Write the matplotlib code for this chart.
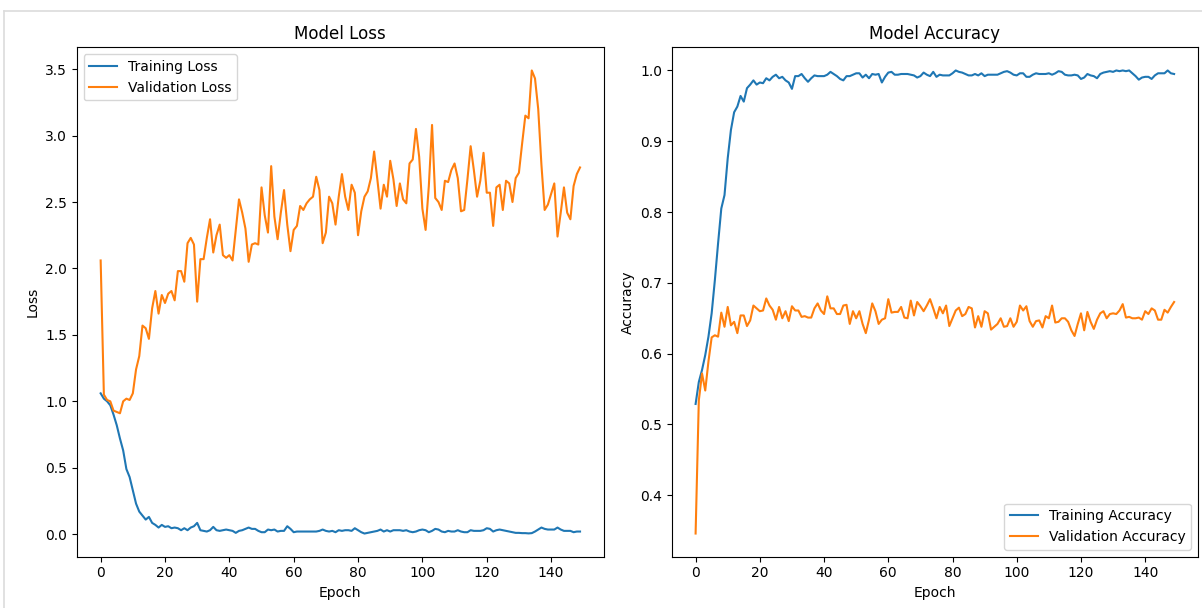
import numpy as np
import matplotlib
matplotlib.use("Agg")
from matplotlib import pyplot as plt
from matplotlib.lines import Line2D

train_loss = [1.06, 1.02, 1.00, 0.97, 0.90, 0.82, 0.72, 0.63, 0.49, 0.43,
              0.33, 0.23, 0.17, 0.14, 0.11, 0.13, 0.085, 0.07, 0.05, 0.07,
              0.055, 0.06, 0.045, 0.05, 0.045, 0.03, 0.045, 0.03, 0.05, 0.06,
              0.085, 0.03, 0.025, 0.02, 0.03, 0.055, 0.03, 0.025, 0.03, 0.035,
              0.03, 0.025, 0.01, 0.025, 0.03, 0.04, 0.05, 0.04, 0.04, 0.025,
              0.015, 0.015, 0.035, 0.03, 0.035, 0.02, 0.025, 0.025, 0.06, 0.04,
              0.015, 0.02, 0.02, 0.02, 0.02, 0.02, 0.02, 0.02, 0.025, 0.035,
              0.025, 0.02, 0.025, 0.015, 0.03, 0.025, 0.03, 0.03, 0.025, 0.045,
              0.03, 0.015, 0.005, 0.01, 0.015, 0.02, 0.025, 0.035, 0.02, 0.03,
              0.02, 0.03, 0.03, 0.03, 0.025, 0.03, 0.02, 0.015, 0.02, 0.03,
              0.035, 0.03, 0.015, 0.025, 0.04, 0.035, 0.02, 0.015, 0.025, 0.02,
              0.02, 0.03, 0.02, 0.015, 0.015, 0.03, 0.025, 0.025, 0.025, 0.03,
              0.045, 0.04, 0.02, 0.03, 0.035, 0.03, 0.025, 0.02, 0.015, 0.01,
              0.01, 0.008, 0.008, 0.006, 0.008, 0.02, 0.035, 0.05, 0.04, 0.035,
              0.035, 0.035, 0.05, 0.035, 0.025, 0.025, 0.025, 0.015, 0.02, 0.02]

val_loss = [2.06, 1.05, 1.01, 1.00, 0.93, 0.92, 0.91, 1.00, 1.02, 1.01,
            1.06, 1.24, 1.34, 1.57, 1.55, 1.47, 1.70, 1.83, 1.66, 1.80,
            1.74, 1.81, 1.83, 1.76, 1.98, 1.98, 1.90, 2.19, 2.23, 2.18,
            1.75, 2.07, 2.07, 2.23, 2.37, 2.12, 2.25, 2.33, 2.10, 2.08,
            2.10, 2.06, 2.29, 2.52, 2.42, 2.30, 2.05, 2.18, 2.19, 2.18,
            2.61, 2.40, 2.27, 2.77, 2.39, 2.22, 2.42, 2.59, 2.33, 2.13,
            2.29, 2.32, 2.47, 2.44, 2.49, 2.52, 2.54, 2.69, 2.59, 2.19,
            2.27, 2.54, 2.49, 2.33, 2.54, 2.71, 2.54, 2.44, 2.63, 2.57,
            2.25, 2.43, 2.54, 2.58, 2.68, 2.88, 2.67, 2.45, 2.63, 2.54,
            2.81, 2.67, 2.47, 2.64, 2.52, 2.49, 2.79, 2.82, 3.05, 2.84,
            2.45, 2.29, 2.62, 3.08, 2.53, 2.50, 2.44, 2.66, 2.65, 2.74,
            2.79, 2.68, 2.43, 2.44, 2.67, 2.92, 2.74, 2.54, 2.66, 2.87,
            2.57, 2.57, 2.32, 2.61, 2.63, 2.44, 2.66, 2.64, 2.50, 2.68,
            2.72, 2.94, 3.15, 3.13, 3.49, 3.43, 3.20, 2.78, 2.44, 2.48,
            2.56, 2.64, 2.24, 2.42, 2.61, 2.42, 2.37, 2.62, 2.71, 2.76]

train_acc = [0.529, 0.560, 0.577, 0.598, 0.624, 0.657, 0.704, 0.756, 0.805, 0.824,
             0.876, 0.916, 0.941, 0.949, 0.964, 0.956, 0.975, 0.980, 0.986, 0.980,
             0.983, 0.982, 0.989, 0.986, 0.991, 0.994, 0.989, 0.991, 0.986, 0.983,
             0.974, 0.992, 0.992, 0.995, 0.989, 0.984, 0.989, 0.993, 0.992, 0.992,
             0.992, 0.994, 0.998, 0.995, 0.992, 0.988, 0.986, 0.992, 0.992, 0.994,
             0.996, 0.996, 0.990, 0.994, 0.989, 0.995, 0.994, 0.995, 0.983, 0.991,
             0.997, 0.998, 0.994, 0.994, 0.995, 0.995, 0.995, 0.994, 0.993, 0.990,
             0.992, 0.997, 0.994, 0.992, 0.998, 0.991, 0.994, 0.993, 0.993, 0.993,
             0.996, 1.000, 0.998, 0.997, 0.995, 0.993, 0.993, 0.995, 0.993, 0.996,
             0.992, 0.994, 0.994, 0.994, 0.994, 0.996, 0.998, 0.999, 0.997, 0.994,
             0.993, 0.996, 0.996, 0.991, 0.991, 0.994, 0.996, 0.995, 0.995, 0.995,
             0.996, 0.994, 0.996, 0.999, 0.998, 0.994, 0.993, 0.993, 0.994, 0.993,
             0.988, 0.990, 0.995, 0.993, 0.992, 0.989, 0.995, 0.997, 0.998, 0.999,
             0.998, 1.000, 0.999, 1.000, 0.999, 1.000, 0.996, 0.992, 0.987, 0.990,
             0.991, 0.991, 0.988, 0.993, 0.996, 0.996, 0.996, 1.000, 0.996, 0.995]

val_acc = [0.346, 0.534, 0.572, 0.548, 0.589, 0.623, 0.626, 0.624, 0.658, 0.638,
           0.666, 0.640, 0.645, 0.629, 0.654, 0.654, 0.639, 0.647, 0.668, 0.664,
           0.660, 0.661, 0.678, 0.668, 0.662, 0.648, 0.666, 0.650, 0.660, 0.646,
           0.667, 0.661, 0.661, 0.652, 0.653, 0.651, 0.651, 0.664, 0.671, 0.661,
           0.656, 0.681, 0.664, 0.664, 0.656, 0.656, 0.668, 0.669, 0.642, 0.660,
           0.650, 0.660, 0.642, 0.629, 0.648, 0.671, 0.660, 0.642, 0.648, 0.650,
           0.677, 0.658, 0.659, 0.659, 0.666, 0.651, 0.650, 0.675, 0.654, 0.673,
           0.667, 0.660, 0.668, 0.677, 0.664, 0.650, 0.666, 0.657, 0.668, 0.639,
           0.650, 0.661, 0.665, 0.653, 0.656, 0.666, 0.664, 0.637, 0.653, 0.638,
           0.660, 0.657, 0.634, 0.638, 0.642, 0.650, 0.638, 0.639, 0.650, 0.638,
           0.645, 0.668, 0.661, 0.667, 0.646, 0.638, 0.646, 0.647, 0.637, 0.653,
           0.650, 0.668, 0.644, 0.645, 0.650, 0.650, 0.645, 0.633, 0.625, 0.642,
           0.657, 0.633, 0.659, 0.645, 0.635, 0.648, 0.657, 0.660, 0.650, 0.656,
           0.657, 0.656, 0.661, 0.670, 0.651, 0.652, 0.650, 0.650, 0.651, 0.648,
           0.660, 0.656, 0.664, 0.661, 0.648, 0.648, 0.662, 0.658, 0.666, 0.673]

epochs = np.arange(len(train_loss))

fig = plt.figure(figsize=(12.02, 6.08), dpi=100)

# light frame around the output cell
fig.add_artist(Line2D([4 / 1202, 1], [1 - 10.7 / 608, 1 - 10.7 / 608], color="#dcdcdc", lw=1.2))
fig.add_artist(Line2D([4 / 1202, 4 / 1202], [0, 1 - 10.7 / 608], color="#dcdcdc", lw=1.2))

ax1 = fig.add_axes([0.0638, 0.0844, 0.4387, 0.8378])
ax1.plot(epochs, train_loss, label="Training Loss")
ax1.plot(epochs, val_loss, label="Validation Loss")
ax1.set_title("Model Loss")
ax1.set_xlabel("Epoch")
ax1.set_ylabel("Loss")
ax1.legend(loc="upper left")

ax2 = fig.add_axes([0.5588, 0.0844, 0.4379, 0.8378])
ax2.plot(epochs, train_acc, label="Training Accuracy")
ax2.plot(epochs, val_acc, label="Validation Accuracy")
ax2.set_title("Model Accuracy")
ax2.set_xlabel("Epoch")
ax2.set_ylabel("Accuracy")
ax2.legend(loc="lower right")

plt.savefig("out.png", dpi=100)
